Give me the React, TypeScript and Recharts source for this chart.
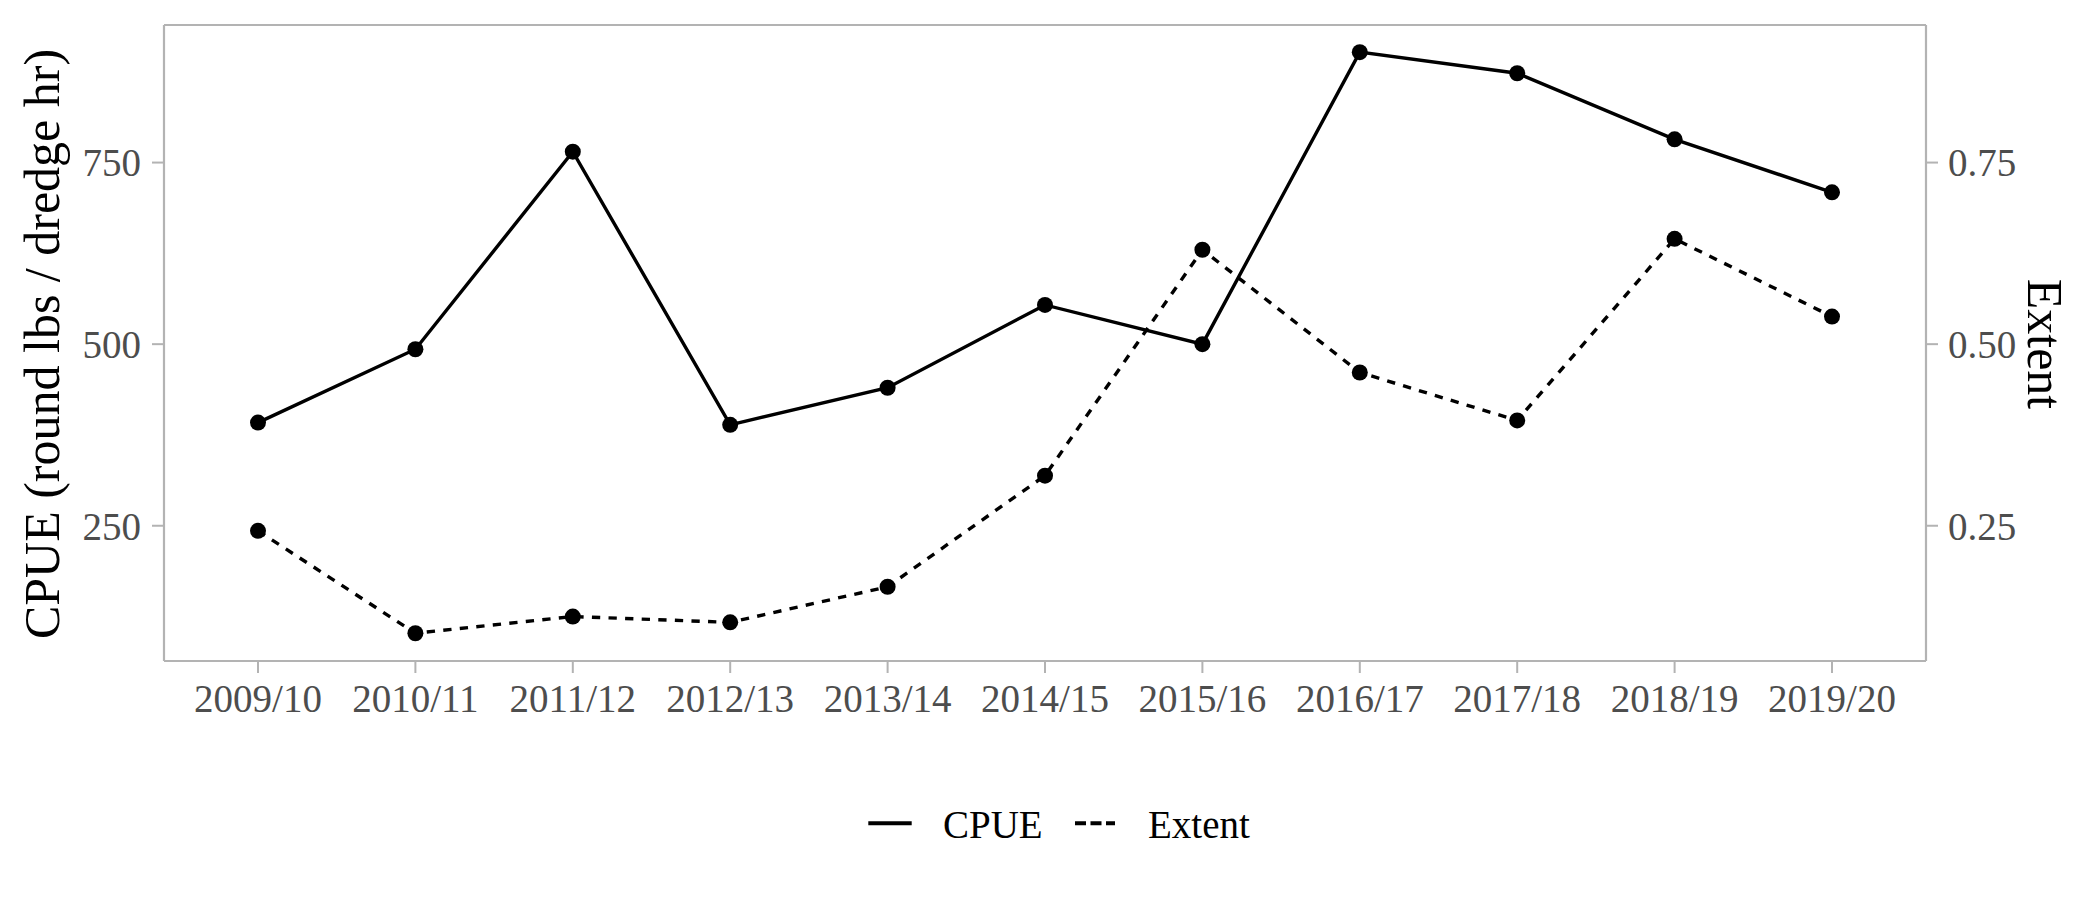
import React from 'react';
import { LineChart, Line, XAxis, YAxis, Legend } from 'recharts';

const seasons = ['2009/10', '2010/11', '2011/12', '2012/13', '2013/14', '2014/15', '2015/16', '2016/17', '2017/18', '2018/19', '2019/20'];
const cpueValues = [392, 493, 765, 389, 440, 554, 500, 902, 873, 782, 709];
const extentValues = [0.243, 0.102, 0.125, 0.117, 0.166, 0.319, 0.63, 0.461, 0.395, 0.645, 0.538];
const cpueTicks = [250, 500, 750];
const extentTicks = [0.25, 0.5, 0.75];
const legendLabels = ['CPUE', 'Extent'];

const data = seasons.map((s, i) => ({ season: s, cpue: cpueValues[i], extent: extentValues[i] }));

const FONT = "'Liberation Serif', 'Times New Roman', serif";
const GREY = '#B3B3B3';
const TICK_TEXT = '#4D4D4D';

const LeftTitle = () => (
  <text
    x={59}
    y={344}
    transform="rotate(-90 59 344)"
    textAnchor="middle"
    fontFamily={FONT}
    fontSize={50}
    fill="#000"
  >
    CPUE (round lbs / dredge hr)
  </text>
);

const RightTitle = () => (
  <text
    x={2028}
    y={344}
    transform="rotate(90 2028 344)"
    textAnchor="middle"
    fontFamily={FONT}
    fontSize={50}
    fill="#000"
  >
    Extent
  </text>
);

const LegendContent = () => (
  <svg width={2100} height={60} style={{ display: 'block' }}>
    <line x1={868.3} x2={911.7} y1={28.3} y2={28.3} stroke="#000" strokeWidth={4} />
    <text x={943} y={42.7} fontFamily={FONT} fontSize={39} fill="#000">{legendLabels[0]}</text>
    <line x1={1075} x2={1115} y1={28.3} y2={28.3} stroke="#000" strokeWidth={4} strokeDasharray="11 4.5" />
    <text x={1148} y={42.7} fontFamily={FONT} fontSize={39} fill="#000">{legendLabels[1]}</text>
  </svg>
);

export default function App() {
  const tickStyle = { fill: TICK_TEXT, fontSize: 39, fontFamily: FONT };
  return (
    <div style={{ position: 'absolute', left: 0, top: 0, width: 2100, height: 900, background: '#fff' }}>
      <LineChart width={2100} height={900} data={data} margin={{ top: 24, right: 0, bottom: 0, left: 0 }}>
        <XAxis
          dataKey="season"
          height={179}
          interval={0}
          padding={{ left: 94, right: 94 }}
          tickSize={12}
          tickMargin={11}
          tick={tickStyle}
          axisLine={{ stroke: GREY, strokeWidth: 2.2 }}
          tickLine={{ stroke: GREY, strokeWidth: 2 }}
        />
        <XAxis
          xAxisId="top"
          orientation="top"
          dataKey="season"
          height={1}
          padding={{ left: 94, right: 94 }}
          tick={false}
          tickLine={false}
          axisLine={{ stroke: GREY, strokeWidth: 2.2 }}
        />
        <YAxis
          yAxisId="left"
          width={164}
          domain={[63.8, 939.4]}
          allowDataOverflow
          ticks={cpueTicks}
          tickSize={12}
          tickMargin={11}
          tick={tickStyle}
          axisLine={{ stroke: GREY, strokeWidth: 2.2 }}
          tickLine={{ stroke: GREY, strokeWidth: 2 }}
          label={<LeftTitle />}
        />
        <YAxis
          yAxisId="right"
          orientation="right"
          width={174}
          domain={[0.0638, 0.9394]}
          allowDataOverflow
          ticks={extentTicks}
          tickFormatter={(v: number) => v.toFixed(2)}
          tickSize={12}
          tickMargin={10}
          tick={tickStyle}
          axisLine={{ stroke: GREY, strokeWidth: 2.2 }}
          tickLine={{ stroke: GREY, strokeWidth: 2 }}
          label={<RightTitle />}
        />
        <Legend
          verticalAlign="bottom"
          height={60}
          wrapperStyle={{ left: 0, top: 795, width: 2100, height: 60 }}
          content={<LegendContent />}
        />
        <Line
          yAxisId="left"
          dataKey="cpue"
          name="CPUE"
          stroke="#000"
          strokeWidth={3.4}
          dot={{ r: 8, fill: '#000', stroke: 'none' }}
          activeDot={false}
          isAnimationActive={false}
        />
        <Line
          yAxisId="right"
          dataKey="extent"
          name="Extent"
          stroke="#000"
          strokeWidth={3.4}
          strokeDasharray="8.3 8.3"
          dot={{ r: 8, fill: '#000', stroke: 'none', strokeDasharray: '' }}
          activeDot={false}
          isAnimationActive={false}
        />
      </LineChart>
    </div>
  );
}
